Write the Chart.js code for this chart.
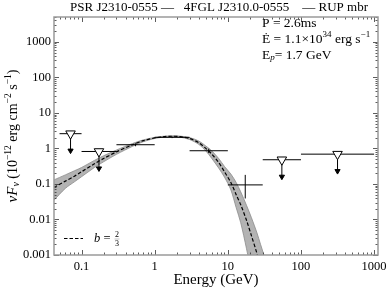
<!DOCTYPE html>
<html><head><meta charset="utf-8">
<script src="https://cdn.jsdelivr.net/npm/chart.js@4.4.0/dist/chart.umd.min.js"></script>
<style>html,body{margin:0;padding:0;background:#fff}</style>
</head><body>
<canvas id="sed" width="391" height="292"></canvas>
<script>
// Fermi band fluxes (nuFnu, 1e-12 erg cm-2 s-1)
const energyLo  = [0.05, 0.1, 0.3, 1, 3, 10, 30, 100];
const energyHi  = [0.1, 0.3, 1, 3, 10, 30, 100, 1000];
const energyMid = [0.0707, 0.173, 0.548, 1.73, 5.48, 17.3, 54.8, 316];
const fluxValue = [2.6, 0.82, 1.27, 2.05, 0.86, 0.094, 0.48, 0.69];
const fluxErrLo = [0, 0, 0.12, 0.1, 0.12, 0.055, 0, 0];
const fluxErrHi = [0, 0, 0.12, 0.1, 0.12, 0.086, 0, 0];
const isUpperLimit = [true, true, false, false, false, false, true, true];

// model curve (b = 2/3) and its band
const modelE    = [0.042, 0.06, 0.08, 0.1, 0.15, 0.2, 0.3, 0.5, 0.7, 1.0, 1.3, 1.7, 2.2, 3.0, 4.0, 5.0, 6.0, 7.5, 9, 11, 13, 15, 18, 21, 25, 28, 32];
const modelFlux = [0.08, 0.12, 0.165, 0.22, 0.37, 0.52, 0.8, 1.27, 1.65, 1.97, 2.13, 2.2, 2.15, 1.9, 1.45, 1.0, 0.7, 0.4, 0.22, 0.11, 0.05, 0.026, 0.0095, 0.0035, 0.0011, 0.0004, 0.0001];
const bandHigh  = [0.13, 0.18, 0.235, 0.29, 0.46, 0.62, 0.9, 1.38, 1.74, 2.04, 2.19, 2.26, 2.22, 2.02, 1.62, 1.17, 0.86, 0.52, 0.31, 0.19, 0.11, 0.06, 0.025, 0.0113, 0.0042, 0.002, 0.00084];
const bandLow   = [0.035, 0.075, 0.115, 0.16, 0.29, 0.42, 0.68, 1.15, 1.55, 1.9, 2.07, 2.14, 2.08, 1.78, 1.3, 0.85, 0.53, 0.28, 0.155, 0.068, 0.0215, 0.0081, 0.0015, 0.0003, 0.00005, 0.00002, 0.00001];

const xTicks = [0.1, 1, 10, 100, 1000];
const yTicks = [0.001, 0.01, 0.1, 1, 10, 100, 1000];

const SERIF = '"Liberation Serif", "DejaVu Serif", serif';

function pts(xs, ys) { return xs.map((v, i) => ({x: v, y: ys[i]})); }

var datasets = [];
// markers on top
var ulPts = [], headPts = [];
for (var i = 0; i < fluxValue.length; i++) {
  if (isUpperLimit[i]) {
    ulPts.push({x: energyMid[i], y: fluxValue[i]});
    headPts.push({x: energyMid[i], y: fluxValue[i] / 3});
  }
}
datasets.push({data: ulPts, showLine: false, pointStyle: 'triangle', rotation: 180,
  pointRadius: 5.5, backgroundColor: '#fff', borderColor: '#000', pointBorderWidth: 1, order: 0});
datasets.push({data: headPts, showLine: false, pointStyle: 'triangle', rotation: 180,
  pointRadius: 3, backgroundColor: '#000', borderColor: '#000', pointBorderWidth: 1, order: 0});

for (var i = 0; i < fluxValue.length; i++) {
  var v = fluxValue[i];
  datasets.push({data: [{x: energyLo[i], y: v}, {x: energyHi[i], y: v}], showLine: true,
    borderColor: '#000', borderWidth: 1, pointRadius: 0, order: 1});
  var vlo = isUpperLimit[i] ? v / 3 : v - fluxErrLo[i];
  var vhi = isUpperLimit[i] ? v : v + fluxErrHi[i];
  datasets.push({data: [{x: energyMid[i], y: vlo}, {x: energyMid[i], y: vhi}], showLine: true,
    borderColor: '#000', borderWidth: 1, pointRadius: 0, order: 1});
}

datasets.push({data: pts(modelE, modelFlux), showLine: true, borderColor: '#000', borderWidth: 1.2,
  borderDash: [3.5, 2], pointRadius: 0, tension: 0.3, order: 2});
var hiIdx = datasets.length;
datasets.push({data: pts(modelE, bandHigh), showLine: true, borderColor: '#8c8c8c', borderWidth: 0.8,
  pointRadius: 0, tension: 0.3, fill: false, order: 3});
datasets.push({data: pts(modelE, bandLow), showLine: true, borderColor: '#8c8c8c', borderWidth: 0.8,
  pointRadius: 0, tension: 0.3, fill: {target: hiIdx}, backgroundColor: '#b3b3b3', order: 3});

function drawRuns(ctx, x, y, parts, align) {
  var w = 0;
  parts.forEach(function (p) {
    ctx.font = (p[2] ? 'italic ' : '') + p[1] + 'px ' + SERIF;
    w += ctx.measureText(p[0]).width;
  });
  var cx = align === 'center' ? x - w / 2 : x;
  parts.forEach(function (p) {
    ctx.font = (p[2] ? 'italic ' : '') + p[1] + 'px ' + SERIF;
    ctx.fillText(p[0], cx, y + (p[3] || 0));
    cx += ctx.measureText(p[0]).width;
  });
}

const frameTicks = {
  id: 'frameTicks',
  afterDraw(chart) {
    const ctx = chart.ctx, a = chart.chartArea, x = chart.scales.x, y = chart.scales.y;
    ctx.save();
    ctx.strokeStyle = '#333';
    ctx.lineWidth = 0.8;
    ctx.beginPath();
    for (let k = -2; k <= 3; k++) for (let m = 1; m <= 9; m++) {
      const v = m * Math.pow(10, k);
      if (v < x.min || v > x.max) continue;
      const px = Math.round(x.getPixelForValue(v)) + 0.5;
      const len = m === 1 ? 5 : 2.5;
      ctx.moveTo(px, a.bottom); ctx.lineTo(px, a.bottom - len);
      ctx.moveTo(px, a.top); ctx.lineTo(px, a.top + len);
    }
    for (let k = -3; k <= 3; k++) for (let m = 1; m <= 9; m++) {
      const v = m * Math.pow(10, k);
      if (v < y.min || v > y.max) continue;
      const py = Math.round(y.getPixelForValue(v)) + 0.5;
      const len = m === 1 ? 5 : 2.5;
      ctx.moveTo(a.left, py); ctx.lineTo(a.left + len, py);
      ctx.moveTo(a.right, py); ctx.lineTo(a.right - len, py);
    }
    ctx.stroke();
    ctx.strokeStyle = '#9a9a9a';
    ctx.lineWidth = 1.5;
    ctx.strokeRect(a.left, a.top, a.right - a.left, a.bottom - a.top);

    // texts
    ctx.fillStyle = '#000';
    ctx.textBaseline = 'middle';
    drawRuns(ctx, 219, 8, [['PSR J2310-0555 \u2014   4FGL J2310.0-0555    \u2014 RUP mbr', 13]], 'center');

    drawRuns(ctx, 262, 23, [['P = 2.6ms', 13.5]]);
    drawRuns(ctx, 262, 39, [['\u0116 = 1.1\u00d710', 13.5], ['34', 9, false, -4], [' erg s', 13.5], ['\u22121', 9, false, -4]]);
    drawRuns(ctx, 262, 55, [['E', 13.5], ['p', 9, true, 3], ['= 1.7 GeV', 13.5]]);

    // legend
    ctx.save();
    ctx.strokeStyle = '#000'; ctx.lineWidth = 1.2; ctx.setLineDash([3.5, 2]);
    ctx.beginPath(); ctx.moveTo(64, 238.5); ctx.lineTo(83, 238.5); ctx.stroke();
    ctx.restore();
    drawRuns(ctx, 94, 239, [['b', 12.5, true], [' = ', 12.5]]);
    ctx.font = '8px ' + SERIF;
    ctx.textAlign = 'center';
    ctx.fillText('2', 117, 234.5);
    ctx.fillText('3', 117, 243.5);
    ctx.textAlign = 'left';
    ctx.lineWidth = 0.6;
    ctx.beginPath(); ctx.moveTo(114.5, 239); ctx.lineTo(119.5, 239); ctx.stroke();

    // y title
    ctx.save();
    ctx.translate(13, 136);
    ctx.rotate(-Math.PI / 2);
    drawRuns(ctx, 0, 0, [['\u03bd', 15, true], ['F', 15, true], ['\u03bd', 10, true, 3],
      [' (10', 14], ['\u221212', 9.5, false, -5], [' erg cm', 14], ['\u22122', 9.5, false, -5],
      [' s', 14], ['\u22121', 9.5, false, -5], [')', 14]], 'center');
    ctx.restore();
    ctx.restore();
  }
};

new Chart(document.getElementById('sed'), {
  type: 'scatter',
  data: {datasets: datasets},
  options: {
    responsive: false,
    animation: false,
    devicePixelRatio: 1,
    layout: {padding: {left: 0, right: 13, top: 17, bottom: 0}},
    plugins: {legend: {display: false}, tooltip: {enabled: false}},
    scales: {
      x: {
        type: 'logarithmic', min: 0.042, max: 1130,
        afterBuildTicks: function (s) { s.ticks = xTicks.map(function (v) { return {value: v}; }); },
        afterFit: function (s) { s.height = 37; },
        grid: {display: false, drawTicks: false},
        border: {display: false},
        ticks: {color: '#000', padding: 4, maxRotation: 0, autoSkip: false,
          font: {family: SERIF, size: 12.5},
          callback: function (v) { return String(v); }},
        title: {display: true, text: 'Energy (GeV)', color: '#000', padding: {top: 0, bottom: 3},
          font: {family: SERIF, size: 15}}
      },
      y: {
        type: 'logarithmic', min: 0.001, max: 5000,
        afterBuildTicks: function (s) { s.ticks = yTicks.map(function (v) { return {value: v}; }); },
        afterFit: function (s) { s.width = 54; },
        grid: {display: false, drawTicks: false},
        border: {display: false},
        ticks: {color: '#000', padding: 3, autoSkip: false,
          font: {family: SERIF, size: 12.5},
          callback: function (v) { return String(v); }}
      }
    }
  },
  plugins: [frameTicks]
});
</script>
</body></html>
